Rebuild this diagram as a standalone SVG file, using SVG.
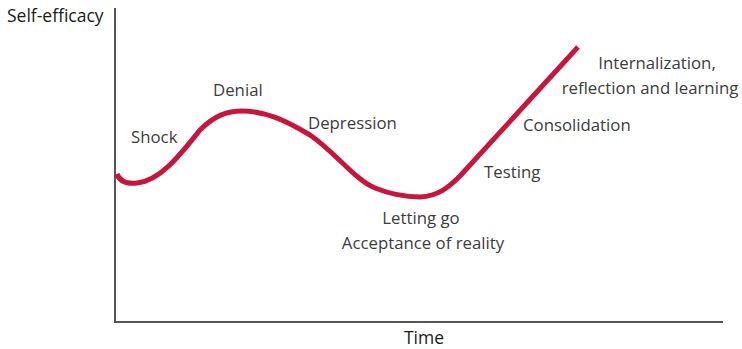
<svg xmlns="http://www.w3.org/2000/svg" width="742" height="349" viewBox="0 0 742 349">
<style>
.lbl{font-family:"Open Sans","Liberation Sans",sans-serif;font-size:16.8px;fill:#3c3c3c}
.ax{font-family:"Open Sans","Liberation Sans",sans-serif;font-size:17.5px;fill:#1a1a1a}
.axis{stroke:#555;stroke-width:2;fill:none}
.curve{stroke:#c8153c;stroke-width:5;fill:none;stroke-linecap:butt;stroke-linejoin:round}
</style>
<g id="axes">
<path class="axis" d="M115,8 V322 H723"/>
<text class="ax" x="7" y="22">Self-efficacy</text>
<text class="ax" x="424" y="344" text-anchor="middle">Time</text>
</g>
<g id="connectors">
<path class="curve" d="M117,174 C120,182 128,184 137,183 C160,181 180,155 200,130 C215,115 228,111 242,111 C265,111 285,120 310,135 C335,152 355,180 375,188 C390,194 405,197 420,197 C438,196 448,188 460,176 L578,47"/>
</g>
<g id="shock"><text class="lbl" x="131" y="143">Shock</text></g>
<g id="denial"><text class="lbl" x="213" y="96">Denial</text></g>
<g id="depression"><text class="lbl" x="308" y="129">Depression</text></g>
<g id="letting-go"><text class="lbl" x="421" y="224" text-anchor="middle">Letting go</text><text class="lbl" x="423" y="249" text-anchor="middle">Acceptance of reality</text></g>
<g id="testing"><text class="lbl" x="484" y="178">Testing</text></g>
<g id="consolidation"><text class="lbl" x="523" y="131">Consolidation</text></g>
<g id="internalization"><text class="lbl" x="657" y="69" text-anchor="middle">Internalization,</text><text class="lbl" x="650" y="94" text-anchor="middle">reflection and learning</text></g>
</svg>
